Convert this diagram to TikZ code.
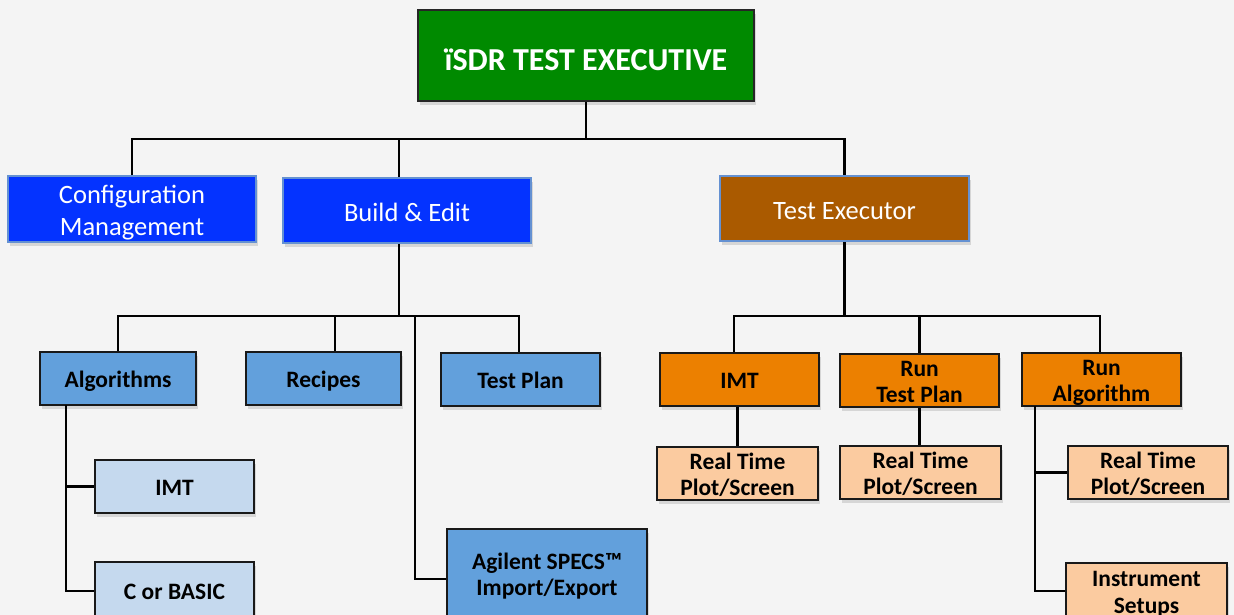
\documentclass[tikz,border=0pt]{standalone}
\usepackage{fontspec}
\setmainfont{Carlito}
\usetikzlibrary{shadows}
\definecolor{bgc}{RGB}{244,244,244}
\definecolor{topgreen}{RGB}{0,138,0}
\definecolor{mgblue}{RGB}{4,51,255}
\definecolor{mgborder}{RGB}{100,145,210}
\definecolor{exbrown}{RGB}{170,90,0}
\definecolor{midblue}{RGB}{98,160,220}
\definecolor{paleblue}{RGB}{197,217,238}
\definecolor{runorange}{RGB}{236,128,0}
\definecolor{peach}{RGB}{251,203,160}
% centred block of lines, set a little lower than its box centre
\newcommand{\lowtext}[2][3.5pt]{\raisebox{-#1}[\height][\depth]{\begin{tabular}{@{}c@{}}#2\end{tabular}}}
\tikzset{
  boxbase/.style={rectangle, inner sep=0pt, line width=2pt,
    drop shadow={opacity=0.25, shadow xshift=2pt, shadow yshift=-4pt}},
  headbox/.style={boxbase, draw=black!85, fill=topgreen, text=white,
    font=\bfseries\fontsize{32}{36}\selectfont},
  mgbox/.style={boxbase, draw=mgborder, text=white,
    font=\fontsize{26.5}{32}\selectfont},
  leafbox/.style={boxbase, draw=black!90, text=black,
    font=\bfseries\fontsize{23.5}{26.5}\selectfont},
  conn/.style={draw=black, line width=2.5pt}
}
\begin{document}
\begin{tikzpicture}[x=1pt, y=-1pt]
\useasboundingbox (0,0) rectangle (1234,615);
\clip (0,0) rectangle (1234,615);
\fill[bgc] (0,0) rectangle (1234,615);

% bus and trunk coordinates
\coordinate (bus) at (586,139);
\coordinate (lbus) at (399,316);
\coordinate (rbus) at (844.5,316);
\coordinate (algtrunk) at (66,405);
\coordinate (agltrunk) at (415,579);
\coordinate (raltrunk) at (1035,406);

% top level
\node[headbox, minimum width=336, minimum height=91] (top) at (586,55.5) {\lowtext[7.5pt]{ïSDR TEST EXECUTIVE}};

% management level
\node[mgbox, fill=mgblue, minimum width=248, minimum height=66] (cfg) at (132,209) {\lowtext[4pt]{Configuration\\Management}};
\node[mgbox, fill=mgblue, minimum width=248, minimum height=65] (build) at (407,210.5) {\lowtext[4.5pt]{Build \& Edit}};
\node[mgbox, fill=exbrown, minimum width=249, minimum height=65] (exe) at (844.5,208.5) {\lowtext[4.5pt]{Test Executor}};

% build & edit branch
\node[leafbox, fill=midblue, minimum width=156, minimum height=53] (alg) at (118,378.5) {\lowtext{Algorithms}};
\node[leafbox, fill=midblue, minimum width=155, minimum height=53] (rec) at (323.5,378.5) {\lowtext{Recipes}};
\node[leafbox, fill=midblue, minimum width=159, minimum height=53] (tplan) at (520.5,379.5) {\lowtext{Test Plan}};
\node[leafbox, fill=paleblue, minimum width=159, minimum height=53] (imt) at (174.5,486.5) {\lowtext{IMT}};
\node[leafbox, fill=paleblue, minimum width=159, minimum height=58] (cbas) at (174.5,591) {\lowtext{C or BASIC}};
\node[leafbox, fill=midblue, minimum width=200, minimum height=89] (agil) at (547,573.5) {\lowtext{Agilent SPECS™\\Import/Export}};

% test executor branch
\node[leafbox, fill=runorange, minimum width=159, minimum height=53] (rimt) at (739.5,379.5) {\lowtext{IMT}};
\node[leafbox, fill=runorange, minimum width=159, minimum height=53] (rtp) at (919.5,380.5) {\lowtext{Run\\Test Plan}};
\node[leafbox, fill=runorange, minimum width=159, minimum height=53] (ralg) at (1101.5,379.5) {\lowtext{Run\\Algorithm}};
\node[leafbox, fill=peach, minimum width=161, minimum height=53] (rt1) at (737.5,473.5) {\lowtext{Real Time\\Plot/Screen}};
\node[leafbox, fill=peach, minimum width=161, minimum height=53] (rt2) at (920.5,472.5) {\lowtext{Real Time\\Plot/Screen}};
\node[leafbox, fill=peach, minimum width=160, minimum height=53] (rt3) at (1148,472.5) {\lowtext{Real Time\\Plot/Screen}};
\node[leafbox, fill=peach, minimum width=161, minimum height=56] (inst) at (1146.5,591) {\lowtext{Instrument\\Setups}};

% connectors: top level
\draw[conn] (top.south) -- (bus);
\draw[conn] (cfg.north) -- (cfg.north |- bus) -| (exe.north);
\draw[conn] ([xshift=-8pt]build.north) -- ([xshift=-8pt]build.north |- bus);

% build & edit
\draw[conn] (build.south -| lbus) -- (lbus);
\draw[conn] (alg.north) -- (alg.north |- lbus) -| ([xshift=-1.5pt]tplan.north);
\draw[conn] ([xshift=11.5pt]rec.north) -- ([xshift=11.5pt]rec.north |- lbus);
\draw[conn] (lbus -| agltrunk) -- (agltrunk) -- (agil.west |- agltrunk);
\draw[conn] (algtrunk) -- (algtrunk |- cbas.west) -- (cbas.west);
\draw[conn] (algtrunk |- imt.west) -- (imt.west);

% test executor
\draw[conn] (exe.south) -- (rbus);
\draw[conn] ([xshift=-5.5pt]rimt.north) -- ([xshift=-5.5pt]rimt.north |- rbus) -| ([xshift=-1.5pt]ralg.north);
\draw[conn] (rtp.north) -- (rtp.north |- rbus);
\draw[conn] (rimt.south -| rt1.north) -- (rt1.north);
\draw[conn] (rtp.south) -- (rtp.south |- rt2.north);
\draw[conn] (raltrunk) -- (raltrunk |- inst.west) -- (inst.west);
\draw[conn] (raltrunk |- rt3.west) -- (rt3.west);
\end{tikzpicture}
\end{document}
